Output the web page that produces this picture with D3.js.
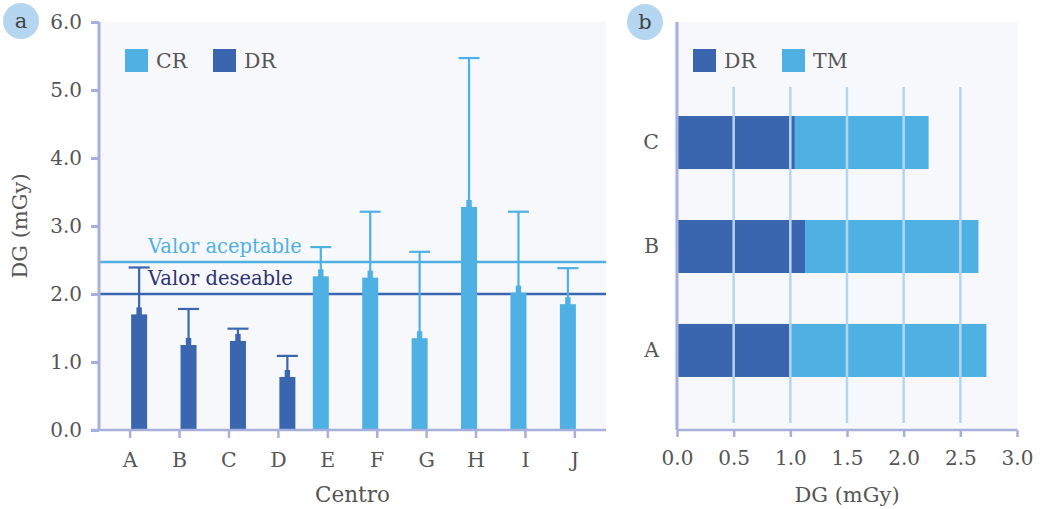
<!DOCTYPE html>
<html>
<head>
<meta charset="utf-8">
<script src="https://cdn.jsdelivr.net/npm/d3@7"></script>
<style>
  body { margin: 0; background: #fff; }
  svg text { font-family: "Roboto Slab", "DejaVu Serif", serif; fill: #555; }
</style>
</head>
<body>
<svg id="chart" width="1040" height="509"></svg>
<script>
// panel a: dose per centre, with upper error
const centros = ["A", "B", "C", "D", "E", "F", "G", "H", "I", "J"];
const grupo = ["DR", "DR", "DR", "DR", "CR", "CR", "CR", "CR", "CR", "CR"];
const dosis = [1.70, 1.25, 1.31, 0.78, 2.26, 2.24, 1.35, 3.28, 2.02, 1.85];
const errorSup = [2.39, 1.78, 1.49, 1.09, 2.69, 3.21, 2.62, 5.47, 3.21, 2.38];
const refValores = [2.47, 2.0];
const refEtiquetas = ["Valor aceptable", "Valor deseable"];
const yTicksA = [0, 1, 2, 3, 4, 5, 6];

// panel b: stacked dose by room
const salas = ["C", "B", "A"];
const dosisDR = [1.04, 1.13, 1.00];
const dosisTM = [1.18, 1.53, 1.73];
const xTicksB = [0, 0.5, 1, 1.5, 2, 2.5, 3];

const color = { CR: "#4fb0e4", DR: "#3a66b0", TM: "#4fb0e4" };
const axisColor = "#a7b0dc";
const bg = "#f7f8fc";

const svg = d3.select("#chart");

// ---------- panel a ----------
const A = { left: 99, right: 606, top: 22, bottom: 430 };

svg.append("rect")
  .attr("x", A.left + 1).attr("y", A.top)
  .attr("width", A.right - A.left - 1).attr("height", A.bottom - A.top)
  .attr("fill", bg);

const x = d3.scaleBand().domain(centros).range([A.left, A.right])
  .paddingInner(0).paddingOuter(0.13);
const xSub = d3.scaleBand().domain(["CR", "DR"])
  .range([x.bandwidth() / 2 - 15, x.bandwidth() / 2 + 17]);
const y = d3.scaleLinear().domain([0, 6]).range([A.bottom, A.top]);

const dataA = centros.map((c, i) => ({ c, g: grupo[i], v: dosis[i], e: errorSup[i] }));

// reference lines
const refs = refValores.map((v, i) => ({ v, label: refEtiquetas[i] }));
const refColors = ["#4fb0e4", "#3a66b0"];
const refText = ["#4fb0e4", "#2e3270"];
svg.selectAll(".ref").data(refs).enter().append("line")
  .attr("x1", A.left + 1).attr("x2", A.right)
  .attr("y1", d => y(d.v)).attr("y2", d => y(d.v))
  .attr("stroke", (d, i) => refColors[i]).attr("stroke-width", 2.5);
svg.selectAll(".refl").data(refs).enter().append("text")
  .attr("x", 148).attr("y", d => y(d.v) - 9)
  .style("font-size", "19.5px")
  .style("fill", (d, i) => refText[i])
  .text(d => d.label);

// error bars
const eb = svg.selectAll(".eb").data(dataA).enter().append("g");
eb.append("line")
  .attr("x1", d => x(d.c) + xSub(d.g) + xSub.bandwidth() / 2)
  .attr("x2", d => x(d.c) + xSub(d.g) + xSub.bandwidth() / 2)
  .attr("y1", d => y(d.v)).attr("y2", d => y(d.e))
  .attr("stroke", d => color[d.g]).attr("stroke-width", 2.2);
eb.append("line")
  .attr("x1", d => x(d.c) + xSub(d.g) + xSub.bandwidth() / 2 - 10.5)
  .attr("x2", d => x(d.c) + xSub(d.g) + xSub.bandwidth() / 2 + 10.5)
  .attr("y1", d => y(d.e)).attr("y2", d => y(d.e))
  .attr("stroke", d => color[d.g]).attr("stroke-width", 2.2);
eb.append("rect")
  .attr("x", d => x(d.c) + xSub(d.g) + xSub.bandwidth() / 2 - 2.7)
  .attr("y", d => y(d.v) - 7)
  .attr("width", 5.4).attr("height", 8)
  .attr("fill", d => color[d.g]);

// bars
svg.selectAll(".bar").data(dataA).enter().append("rect")
  .attr("x", d => x(d.c) + xSub(d.g))
  .attr("y", d => y(d.v))
  .attr("width", xSub.bandwidth())
  .attr("height", d => y(0) - y(d.v))
  .attr("fill", d => color[d.g]);

// y axis
const yAx = svg.append("g").attr("transform", `translate(${A.left},0)`)
  .call(d3.axisLeft(y).tickValues(yTicksA).tickFormat(d3.format(".1f")).tickSize(8).tickPadding(9));
yAx.select(".domain").attr("stroke", axisColor).attr("stroke-width", 3).attr("d", `M0,${A.top}V${A.bottom}`);
yAx.selectAll(".tick line").attr("stroke", axisColor).attr("stroke-width", 3);
yAx.selectAll(".tick text").style("font-size", "20px").style("fill", "#555");

// x axis
const xAx = svg.append("g").attr("transform", `translate(0,${A.bottom})`)
  .call(d3.axisBottom(x).tickSize(8).tickPadding(14));
xAx.select(".domain").attr("stroke", axisColor).attr("stroke-width", 2.5).attr("d", `M${A.left - 8},0H${A.right}`);
xAx.selectAll(".tick line").attr("stroke", axisColor).attr("stroke-width", 2.5);
xAx.selectAll(".tick text").style("font-size", "20.5px").style("fill", "#555");

svg.append("text").attr("x", (A.left + A.right) / 2).attr("y", 502)
  .attr("text-anchor", "middle").style("font-size", "21.5px").text("Centro");
svg.append("text")
  .attr("transform", `translate(27,${(A.top + A.bottom) / 2}) rotate(-90)`)
  .attr("text-anchor", "middle").style("font-size", "21px").text("DG (mGy)");

// legend a
const legA = ["CR", "DR"];
const legAx = [125, 213];
legA.forEach((k, i) => {
  svg.append("rect").attr("x", legAx[i]).attr("y", 49).attr("width", 23).attr("height", 23).attr("fill", color[k]);
  svg.append("text").attr("x", legAx[i] + 31).attr("y", 68).style("font-size", "20.5px").text(k);
});

// ---------- panel b ----------
const B = { left: 677, right: 1017, top: 22, bottom: 430 };

svg.append("rect")
  .attr("x", 674).attr("y", B.top)
  .attr("width", 1018 - 674).attr("height", B.bottom - B.top)
  .attr("fill", bg);

const xb = d3.scaleLinear().domain([0, 3]).range([B.left, B.right]);
const yb = d3.scaleBand().domain(salas).range([63, B.bottom])
  .paddingInner(0.49).paddingOuter(0.51);

const tabla = salas.map((s, i) => ({ sala: s, DR: dosisDR[i], TM: dosisTM[i] }));
const stack = d3.stack().keys(["DR", "TM"])(tabla);

svg.append("g").selectAll("g").data(stack).enter().append("g")
  .attr("fill", d => color[d.key])
  .selectAll("rect").data(d => d).enter().append("rect")
  .attr("x", d => xb(d[0]))
  .attr("y", d => yb(d.data.sala))
  .attr("width", d => xb(d[1]) - xb(d[0]))
  .attr("height", yb.bandwidth());

// grid over the bars
svg.selectAll(".grid").data(xTicksB.slice(1, -1)).enter().append("line")
  .attr("x1", d => xb(d)).attr("x2", d => xb(d))
  .attr("y1", 87).attr("y2", 423)
  .attr("stroke", "#b5d6f2").attr("stroke-width", 2.5);

const xbAx = svg.append("g").attr("transform", `translate(0,${B.bottom})`)
  .call(d3.axisBottom(xb).tickValues(xTicksB).tickFormat(d3.format(".1f")).tickSize(7).tickPadding(14));
xbAx.select(".domain").attr("stroke", axisColor).attr("stroke-width", 2.5).attr("d", `M${B.left},0H${B.right}`);
xbAx.selectAll(".tick line").attr("stroke", axisColor).attr("stroke-width", 2.5);
xbAx.selectAll(".tick text").style("font-size", "20px").style("fill", "#555");

const ybAx = svg.append("g").attr("transform", `translate(${B.left},0)`)
  .call(d3.axisLeft(yb).tickSize(0).tickPadding(18));
ybAx.select(".domain").attr("stroke", axisColor).attr("stroke-width", 3).attr("d", `M0,${B.top}V${B.bottom}`);
ybAx.selectAll(".tick text").style("font-size", "20.5px").style("fill", "#555");

svg.append("text").attr("x", (B.left + B.right) / 2).attr("y", 502)
  .attr("text-anchor", "middle").style("font-size", "21px").text("DG (mGy)");

// legend b
const legB = ["DR", "TM"];
const legBx = [693, 782];
legB.forEach((k, i) => {
  svg.append("rect").attr("x", legBx[i]).attr("y", 49).attr("width", 23).attr("height", 23).attr("fill", color[k]);
  svg.append("text").attr("x", legBx[i] + 31).attr("y", 68).style("font-size", "20.5px").text(k);
});

// panel badges
const badges = [{ t: "a", cx: 21, cy: 21 }, { t: "b", cx: 645, cy: 22 }];
badges.forEach(b => {
  svg.append("circle").attr("cx", b.cx).attr("cy", b.cy).attr("r", 18).attr("fill", "#b5d6f1");
  svg.append("text").attr("x", b.cx).attr("y", b.cy + 7).attr("text-anchor", "middle")
    .style("font-size", "21px").style("fill", "#444").text(b.t);
});
</script>
</body>
</html>
